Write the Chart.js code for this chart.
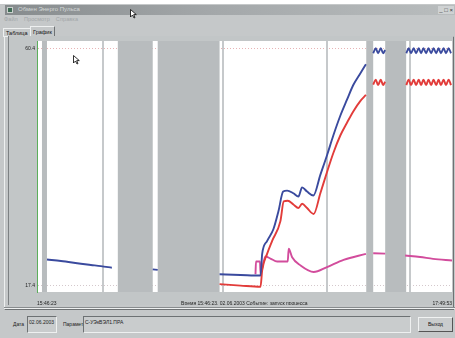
<!DOCTYPE html>
<html>
<head>
<meta charset="utf-8">
<script src="https://cdn.jsdelivr.net/npm/chart.js@4/dist/chart.umd.min.js"></script>
<style>
  html, body { margin:0; padding:0; width:455px; height:338px; overflow:hidden; background:#fff; }
  body { font-family:"Liberation Sans", Arial, sans-serif; position:relative; }
  #win { position:absolute; left:0; top:4px; width:455px; height:334px; background:#c5c8c9; }
  #title { position:absolute; left:5px; right:0; top:1px; height:10px;
    background:linear-gradient(to right,#868b8d,#a3a7a9 45%,#b9bdbe); }
  #title .ico { position:absolute; left:2px; top:2px; width:6px; height:6px; background:#3f6b55; border:1px solid #c9d0cc; box-sizing:border-box; }
  #title .txt { position:absolute; left:13px; top:1px; font-size:6px; color:#d4d8d8; }
  #title .btns { position:absolute; right:1px; top:1px; font-size:6px; color:#333; background:#cfd2d3; padding:0 1px; line-height:8px; }
  #menu { position:absolute; left:4px; top:12px; font-size:5.5px; color:#a2a6a8; letter-spacing:0.1px; }
  #menu span { margin-right:6px; }
  #tabs { position:absolute; left:3px; top:22px; height:11px; }
  .tab { position:absolute; top:2px; height:8px; font-size:5.5px; line-height:8px; padding:0 2px;
    border-top:1px solid #eef0f0; border-left:1px solid #eef0f0; border-right:1px solid #6e7274; color:#111; }
  .tab.sel { top:0; height:10px; line-height:11px; background:#c5c8c9; }
  #panel { position:absolute; left:4px; top:32px; width:450px; height:274px; border-top:1px solid #eef0f0;
    border-left:1px solid #eef0f0; border-right:1px solid #6e7274; border-bottom:1px solid #6e7274; box-sizing:border-box; }
  #chartbox { position:absolute; left:8px; top:36px; width:445px; height:269px; background:#c2c6c7;
    border-left:1px solid #7d8183; box-sizing:border-box; }
  #groove { position:absolute; left:4px; top:307px; width:451px; height:2px; border-top:1px solid #888c8e; border-bottom:1px solid #eef0f0; box-sizing:border-box; }
  .lbl { position:absolute; top:321px; font-size:5px; color:#222; }
  .box { position:absolute; top:316px; height:17px; border-top:1px solid #6d7173; border-left:1px solid #6d7173;
    border-bottom:1px solid #eef0f0; border-right:1px solid #eef0f0; box-sizing:border-box; font-size:5px; color:#222; padding:2px 1px; background:#c9cccd; }
  .btn { position:absolute; left:418px; top:317px; width:35px; height:15px; border-top:1px solid #f0f2f2; border-left:1px solid #f0f2f2;
    border-right:1px solid #555; border-bottom:1px solid #555; box-sizing:border-box; font-size:5px; text-align:center; line-height:13px; color:#111; background:#c9cccd; }
  .cur { position:absolute; }
</style>
</head>
<body>
<div id="win">
  <div id="title"><span class="ico"></span><span class="txt">Обмен Энерго Пульса</span><span class="btns">_ □ ×</span></div>
  <div id="menu"><span>Файл</span><span>Просмотр</span><span>Справка</span></div>
  <div id="tabs">
    <span class="tab" style="left:0;">Таблица</span>
    <span class="tab sel" style="left:27px;">График</span>
  </div>
  <div id="panel"></div>
</div>
<div id="chartbox"><canvas id="chart" width="444" height="269"></canvas></div>
<div id="groove"></div>
<div class="lbl" style="left:13px;">Дата</div>
<div class="box" style="left:27px;width:30px;">02.06.2003</div>
<div class="lbl" style="left:63px;">Параметр</div>
<div class="box" style="left:83px;width:328px;">С-УЭкВЭЛ1.ПРА</div>
<div class="btn">Выход</div>
<svg class="cur" style="left:130px;top:9px" width="7" height="10"><path d="M0.5 0.5 L0.5 8 L2.5 6 L4 9 L5 8.5 L3.7 5.6 L6.3 5.6 Z" fill="#fff" stroke="#000" stroke-width="0.8"/></svg>
<svg class="cur" style="left:73px;top:55px" width="7" height="10"><path d="M0.5 0.5 L0.5 8 L2.5 6 L4 9 L5 8.5 L3.7 5.6 L6.3 5.6 Z" fill="#fff" stroke="#000" stroke-width="0.8"/></svg>
<script>
// ── DATA (time in minutes from 15:46:23) ────────────
const xMin = 0, xMax = 123.5;
const yMin = 16.15, yMax = 61.83;
const yTicks = [17.4, 60.4];
const xTicks = [0, 61.7, 123.5];
const xTickLabels = ['15:46:23', 'Время 15:46:23, 02.06.2003 Событие: запуск процесса', '17:49:53'];

// gaps in recording (grey bands) and marker lines
const gapFrom = [1.48, 24.05, 35.92, 97.98, 103.62];
const gapTo   = [2.97, 34.44, 54.33, 100.05, 109.86];
const markAt  = [19.6, 55.5, 86.4, 111.0];

const blueT = [2.97, 7.13, 13.06, 16.03, 19.0, 22.27, 28, 34.44, 35.92, 45,
  54.33, 60.57, 66.51, 67.01, 68.50, 70.37, 71.85, 73.25, 74.43, 76.30, 77.79, 78.89, 80.37, 82.24,
  84.32, 86.31, 88.18, 90.26, 92.25, 94.12, 96.20, 97.89, 99,
  100.05, 100.8, 101.5, 102.3, 103.0, 103.6, 106,
  109.9, 110.6, 111.3, 112.1, 112.8, 113.6, 114.3, 115.0, 115.8, 116.5, 117.3, 118.0, 118.8, 119.5, 120.2, 121.0, 121.7, 122.5, 123.2];
const blueV = [22.06, 21.79, 21.29, 21.07, 20.86, 20.57, null, 20.27, 20.18, null,
  19.37, 19.25, 19.14, 23.08, 25.46, 27.61, 30.84, 34.42, 34.60, 34.12, 33.53, 35.19, 34.42, 33.70,
  37.47, 41.05, 44.63, 48.22, 51.14, 53.82, 55.92, 57.59, null,
  59.6, 60.5, 59.6, 60.5, 59.6, 60.2, null,
  59.6, 60.5, 59.6, 60.5, 59.6, 60.5, 59.6, 60.5, 59.6, 60.5, 59.6, 60.5, 59.6, 60.5, 59.6, 60.5, 59.6, 60.5, 59.6];

const redT = [54.33, 60.57, 66.51, 67.01, 68.50, 69.98, 72.44, 73.42, 74.61, 76.30, 77.79, 78.89, 80.37, 82.33,
  84.32, 86.31, 88.27, 90.26, 92.25, 94.21, 96.20, 97.89, 99,
  100.05, 100.8, 101.5, 102.3, 103.0, 103.6, 106,
  109.9, 110.6, 111.3, 112.1, 112.8, 113.6, 114.3, 115.0, 115.8, 116.5, 117.3, 118.0, 118.8, 119.5, 120.2, 121.0, 121.7, 122.5, 123.2];
const redV = [17.58, 17.31, 17.10, 20.09, 23.13, 25.46, 29.05, 32.63, 32.75, 32.09, 31.43, 32.22, 31.43, 30.35,
  34.12, 38.00, 41.59, 44.63, 46.96, 49.11, 50.90, 52.03, null,
  53.9, 54.8, 53.8, 54.8, 53.8, 54.4, null,
  53.8, 54.8, 53.8, 54.8, 53.8, 54.8, 53.8, 54.8, 53.8, 54.8, 53.8, 54.8, 53.8, 54.8, 53.8, 54.8, 53.8, 54.8, 53.8];

const pinkT = [65.02, 65.17, 66.36, 66.51, 67.99, 69.47, 71.46, 74.61, 74.91, 75.92, 78.38, 82.33, 86.31, 91.24, 97.89, 99,
  100.05, 103.62, 106, 109.56, 114.0, 117.87, 123.5];
const pinkV = [19.37, 21.70, 21.70, 19.55, 22.60, 22.24, 21.70, 21.70, 24.03, 22.47, 21.00, 19.78, 20.68, 22.00, 23.08, null,
  23.19, 23.13, null, 22.78, 22.51, 22.18, 21.88];

const pts = (t, v) => t.map((x, i) => ({ x, y: v[i] }));

// ── PLUGIN: white plot + grey gap bands ─────────────
const bands = {
  id: 'bands',
  beforeDraw(chart) {
    const { ctx, chartArea: a } = chart;
    ctx.save();
    ctx.fillStyle = '#ffffff';
    ctx.fillRect(a.left, a.top, a.right - a.left, a.bottom - a.top);
    ctx.restore();
  },
  beforeDatasetsDraw(chart) {
    const { ctx, chartArea: a, scales: { x } } = chart;
    ctx.save();
    ctx.fillStyle = '#b8bcbe';
    gapFrom.forEach((f, i) => {
      const x0 = x.getPixelForValue(f), x1 = x.getPixelForValue(gapTo[i]);
      ctx.fillRect(x0, a.top, x1 - x0, a.bottom - a.top);
    });
    ctx.fillStyle = '#c6c9cb';
    markAt.forEach(m => {
      const px = Math.round(x.getPixelForValue(m));
      ctx.fillRect(px - 1, a.top, 2, a.bottom - a.top);
    });
    ctx.restore();
  }
};

const font = { family: '"Liberation Sans", Arial, sans-serif', size: 5 };

new Chart(document.getElementById('chart'), {
  type: 'line',
  data: {
    datasets: [
      { data: pts(blueT, blueV), borderColor: '#3a4a9e', borderWidth: 1.9 },
      { data: pts(redT, redV), borderColor: '#e23c3a', borderWidth: 1.9 },
      { data: pts(pinkT, pinkV), borderColor: '#d24c9c', borderWidth: 1.9 }
    ]
  },
  options: {
    responsive: false,
    animation: false,
    events: [],
    spanGaps: false,
    elements: { point: { radius: 0 }, line: { cubicInterpolationMode: 'monotone' } },
    layout: { padding: { top: 1, right: 1 } },
    plugins: { legend: { display: false }, tooltip: { enabled: false } },
    scales: {
      x: {
        type: 'linear', min: xMin, max: xMax,
        afterBuildTicks: s => { s.ticks = xTicks.map(value => ({ value })); },
        afterFit: s => { s.height = 13; },
        ticks: {
          autoSkip: false, maxRotation: 0, align: 'inner', padding: 1, color: '#222', font,
          callback: (v, i) => xTickLabels[i]
        },
        grid: { display: false },
        border: { display: false }
      },
      y: {
        min: yMin, max: yMax,
        afterBuildTicks: s => { s.ticks = yTicks.map(value => ({ value })); },
        afterFit: s => { s.width = 28; },
        ticks: { padding: 2, color: '#222', font, callback: v => v.toFixed(1) },
        grid: {
          drawTicks: false,
          color: ctx => ctx.tick && ctx.tick.value > 50 ? '#e8b4b6' : '#d4c8cc'
        },
        border: { color: '#5cae5c', dash: [1, 2], width: 1 }
      }
    }
  },
  plugins: [bands]
});
</script>
</body>
</html>
